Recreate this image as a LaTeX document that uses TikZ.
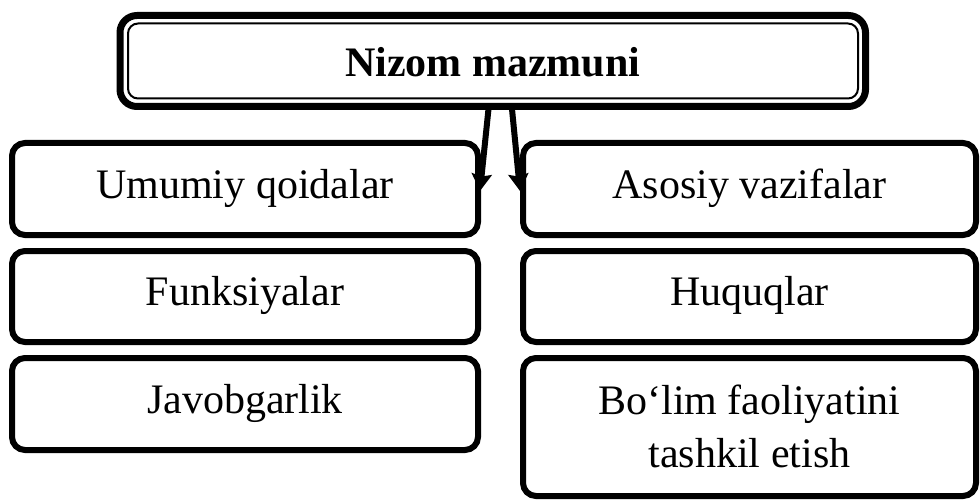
\documentclass[tikz,border=0pt]{standalone}
\usepackage{fontspec}
\setmainfont{Liberation Serif}
\usetikzlibrary{arrows.meta}
\begin{document}
\begin{tikzpicture}[x=1pt,y=-1pt,
  box/.style={draw, line width=6pt, rounded corners=13pt, inner sep=0pt, outer sep=0pt,
    font=\fontsize{42}{53}\selectfont, align=center, text height=30pt, text depth=12pt},
  lbox/.style={box, minimum width=466pt},
  rbox/.style={box, minimum width=453pt},
  titlebox/.style={draw, line width=7pt, rounded corners=17pt, inner sep=0pt, outer sep=0pt,
    minimum width=745.5pt, minimum height=91pt,
    font=\fontsize{42}{50}\selectfont\bfseries, text height=32pt, text depth=0pt},
  conn/.style={line width=6pt, -{Stealth[length=17pt,width=20pt,inset=2.5pt]}}
]
\useasboundingbox (0,0) rectangle (980,500);
\fill[white] (0,0) rectangle (980,500);

\node[titlebox] (top) at (492.75,61) {Nizom mazmuni};
\draw[line width=2pt, rounded corners=10pt]
  ([shift={(8,8)}]top.north west) rectangle ([shift={(-7.5,-8)}]top.south east);

\node[lbox, minimum height=92pt] (l1) at (245,189) {Umumiy qoidalar};
\node[lbox, minimum height=91pt] (l2) at (245,296.5) {Funksiyalar};
\node[lbox, minimum height=92pt] (l3) at (245,404) {Javobgarlik};

\node[rbox, minimum height=92pt] (r1) at (749.5,189) {Asosiy vazifalar};
\node[rbox, minimum height=91pt] (r2) at (749.5,296.5) {Huquqlar};
\node[rbox, minimum height=138pt, text height=83pt, text depth=3pt] (r3) at (749.5,427) {Bo‘lim faoliyatini\\tashkil etish};

\draw[conn] ([xshift=-4pt]top.south) -- ([shift={(2,2)}]l1.east);
\draw[conn] ([xshift=19pt]top.south) -- ([shift={(-3,2)}]r1.west);
\end{tikzpicture}
\end{document}
